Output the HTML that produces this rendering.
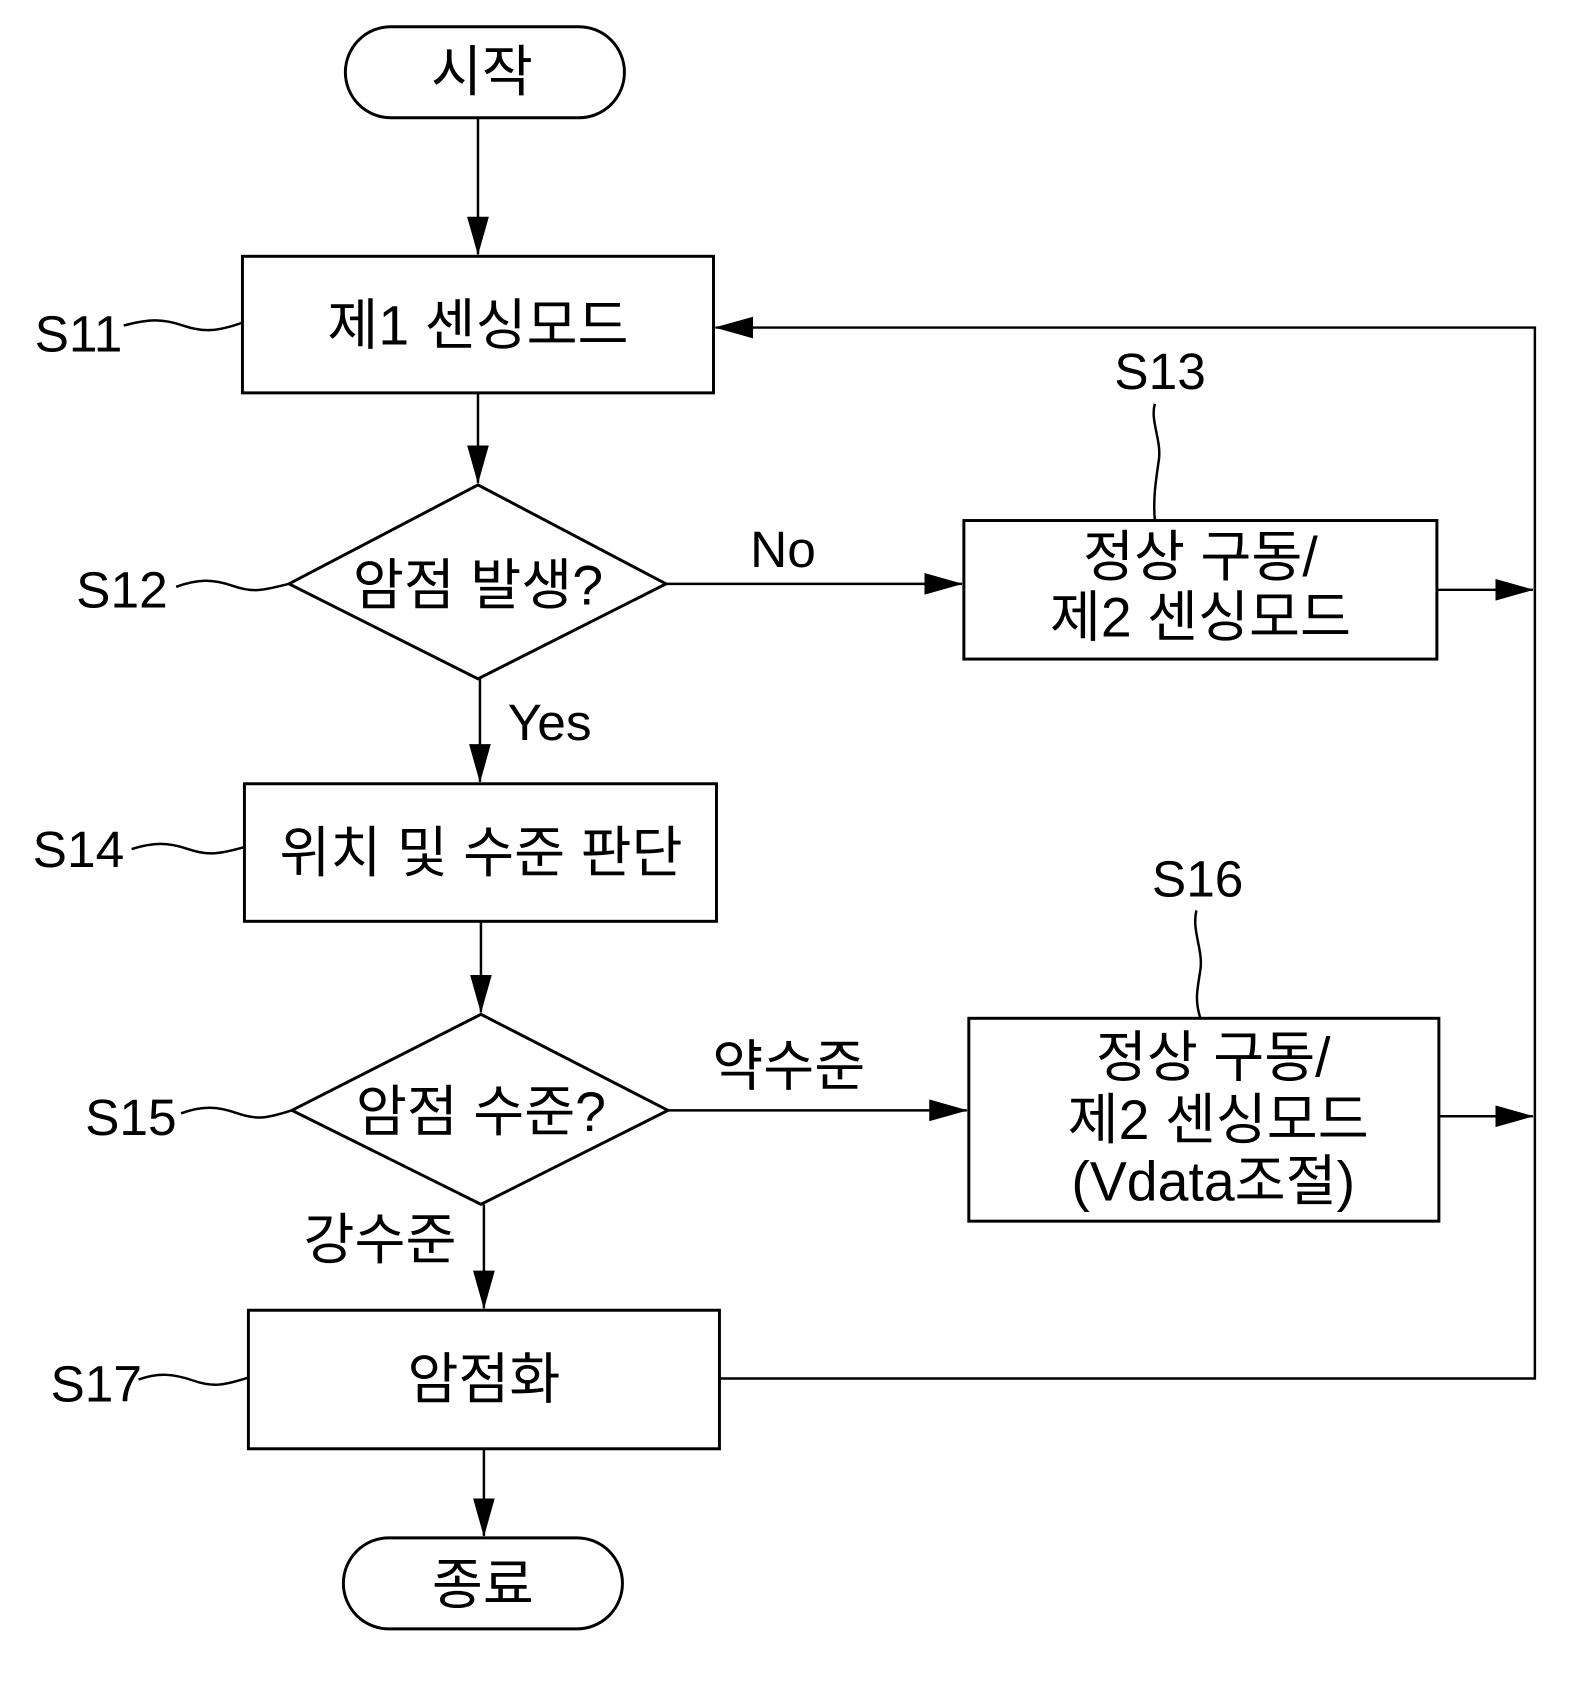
<!DOCTYPE html>
<html><head><meta charset="utf-8"><style>
html,body{margin:0;padding:0;background:#fff;}
svg{display:block;}
text{font-family:"Liberation Sans","Noto Sans CJK KR","NanumGothic",sans-serif;fill:#000;}
</style></head><body>
<svg width="1588" height="1682" viewBox="0 0 1588 1682" xmlns="http://www.w3.org/2000/svg">
<defs>
<marker id="a" markerWidth="40" markerHeight="22" refX="38" refY="11" orient="auto" markerUnits="userSpaceOnUse">
<path d="M0,0 L39,11 L0,22 Z" fill="#000"/></marker>
</defs>
<g transform="scale(0.9896)">
<g fill="none" stroke="#000" stroke-width="3">
<rect x="349" y="27" width="282" height="92" rx="46"/>
<rect x="245" y="259" width="476" height="138"/>
<polygon points="483,490 673,590 483,686 292,590"/>
<rect x="974" y="526" width="478" height="140"/>
<rect x="247" y="792" width="477" height="139"/>
<polygon points="486,1025 675,1122 486,1217 295,1122"/>
<rect x="979" y="1029" width="475" height="205"/>
<rect x="251" y="1324" width="476" height="140"/>
<rect x="347" y="1554" width="282" height="92" rx="46"/>
</g>
<g fill="none" stroke="#000" stroke-width="2.5">
<line x1="483" y1="119" x2="483" y2="257" marker-end="url(#a)"/>
<line x1="483" y1="397" x2="483" y2="488" marker-end="url(#a)"/>
<line x1="673" y1="590" x2="972" y2="590" marker-end="url(#a)"/>
<line x1="485" y1="686" x2="485" y2="790" marker-end="url(#a)"/>
<line x1="486" y1="931" x2="486" y2="1023" marker-end="url(#a)"/>
<line x1="675" y1="1122" x2="977" y2="1122" marker-end="url(#a)"/>
<line x1="489" y1="1217" x2="489" y2="1322" marker-end="url(#a)"/>
<line x1="489" y1="1464" x2="489" y2="1552" marker-end="url(#a)"/>
<line x1="1452" y1="596" x2="1549" y2="596" marker-end="url(#a)"/>
<line x1="1454" y1="1128" x2="1549" y2="1128" marker-end="url(#a)"/>
<polyline points="727,1393 1551,1393 1551,331 723,331" marker-end="url(#a)"/>
<path d="M125,329 C150,322 165,322 185,329 S220,335 245,326"/>
<path d="M178,593 C200,585 215,585 235,592 S265,597 292,590"/>
<path d="M133,858 C155,851 170,851 190,858 S222,863 247,856"/>
<path d="M183,1125 C205,1117 220,1118 240,1125 S270,1130 295,1122"/>
<path d="M140,1394 C160,1387 175,1388 195,1395 S226,1400 251,1392"/>
<path d="M1167,408 C1162,425 1174,445 1171,465 S1165,505 1167,526"/>
<path d="M1209,920 C1204,940 1216,960 1213,980 S1207,1010 1213,1029"/>
</g>
<g font-size="56" text-anchor="middle">
<text x="487" y="92">시작</text>
<text x="483" y="348">제1 센싱모드</text>
<text x="483" y="611">암점 발생?</text>
<text x="1213" y="582">정상 구동/</text>
<text x="1213" y="643">제2 센싱모드</text>
<text x="486" y="881">위치 및 수준 판단</text>
<text x="486" y="1143">암점 수준?</text>
<text x="1226" y="1088">정상 구동/</text>
<text x="1231" y="1151">제2 센싱모드</text>
<text x="1226" y="1213">(Vdata조절)</text>
<text x="489" y="1413">암점화</text>
<text x="488" y="1621">종료</text>
<text x="797" y="1097">약수준</text>
<text x="384" y="1272">강수준</text>
</g>
<g font-size="52">
<text x="35" y="355">S11</text>
<text x="77" y="614">S12</text>
<text x="1126" y="393">S13</text>
<text x="33" y="876">S14</text>
<text x="86" y="1147">S15</text>
<text x="1164" y="906">S16</text>
<text x="51" y="1416">S17</text>
<text x="758" y="573">No</text>
<text x="513" y="748">Yes</text>
</g>
</g>
</svg>
</body></html>
